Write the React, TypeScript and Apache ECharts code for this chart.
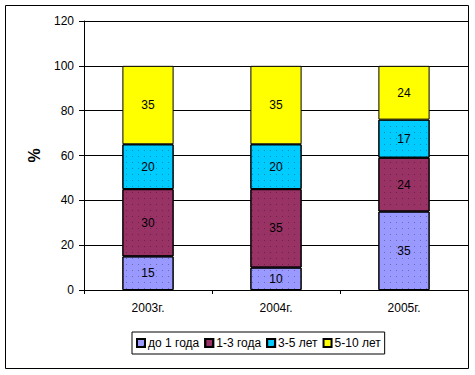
import React, { useEffect, useRef } from "react";
import * as echarts from "echarts";

const categories = ["2003г.", "2004г.", "2005г."];
const seriesNames = ["до 1 года", "1-3 года", "3-5 лет", "5-10 лет"];
const upTo1 = [15, 10, 35];
const y1to3 = [30, 35, 24];
const y3to5 = [20, 20, 17];
const y5to10 = [35, 35, 24];
const colors = ["#9999FF", "#993366", "#00CCFF", "#FFFF00"];
const dotted = [true, true, true, false];

const FONT = "Arial, 'Liberation Sans', sans-serif";

export default function App() {
  const ref = useRef<HTMLDivElement>(null);
  useEffect(() => {
    document.body.style.margin = "0";
    const chart = echarts.init(ref.current!, null, { renderer: "svg" });
    const values = [upTo1, y1to3, y3to5, y5to10];
    chart.setOption({
      animation: false,
      backgroundColor: "#fff",
      textStyle: { fontFamily: FONT },
      grid: { left: 84, right: 7, top: 21, bottom: 85 },
      graphic: [
        {
          type: "rect",
          shape: { x: 5.5, y: 5.5, width: 463, height: 363 },
          style: { fill: "none", stroke: "#000", lineWidth: 1 },
          z: 0,
        },
      ],
      legend: {
        data: seriesNames,
        left: 132,
        top: 332,
        itemWidth: 8,
        itemHeight: 8,
        itemGap: 5,
        padding: [5, 4],
        borderColor: "#000",
        borderWidth: 1,
        icon: "rect",
        textStyle: { fontSize: 12, color: "#000", fontFamily: FONT, padding: [0, 0, 0, -2] },
      },
      xAxis: {
        type: "category",
        data: categories,
        axisLine: { lineStyle: { color: "#000" } },
        axisTick: { show: true, length: 4, lineStyle: { color: "#000" } },
        axisLabel: { color: "#000", fontSize: 12, margin: 12, fontFamily: FONT },
      },
      yAxis: {
        type: "value",
        min: 0,
        max: 120,
        interval: 20,
        name: "%",
        nameLocation: "middle",
        nameGap: 42,
        nameRotate: 90,
        nameTextStyle: { fontSize: 16, fontWeight: "bold", color: "#000", fontFamily: FONT },
        axisLine: { show: true, lineStyle: { color: "#000" } },
        axisTick: { show: true, length: 5, lineStyle: { color: "#000" } },
        axisLabel: { color: "#000", fontSize: 12, margin: 10, fontFamily: FONT },
        splitLine: { show: true, lineStyle: { color: "#000", width: 1 } },
      },
      series: seriesNames.map((name, i) => ({
        name,
        type: "bar",
        stack: "total",
        barWidth: "40%",
        data: values[i],
        itemStyle: {
          color: colors[i],
          borderColor: "#000",
          borderWidth: 1,
          decal: dotted[i]
            ? {
                symbol: "rect",
                symbolSize: 1,
                dashArrayX: [1, 5],
                dashArrayY: [1, 5],
                rotation: 0,
                color: "rgba(0,0,0,0.3)",
              }
            : "none",
        },
        label: {
          show: true,
          position: "inside",
          color: "#000",
          fontSize: 12,
          fontFamily: FONT,
        },
      })),
    });
    return () => chart.dispose();
  }, []);
  return (
    <div
      ref={ref}
      style={{ width: 475, height: 375, position: "absolute", left: 0, top: 0 }}
    />
  );
}
